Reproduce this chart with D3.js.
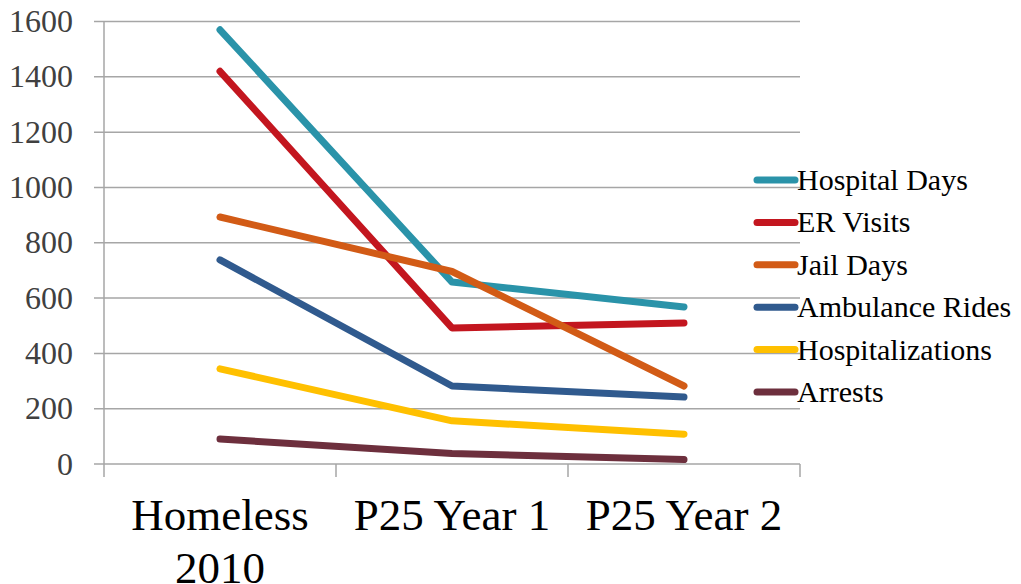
<!DOCTYPE html>
<html>
<head>
    <script src="https://d3js.org/d3.v7.min.js"></script>
    <style>
        body { margin: 0; background: #fff; }
        text { font-family: "Liberation Serif", "DejaVu Serif", serif; }
    </style>
</head>
<body>
    <svg id="chartArea" width="1021" height="584"></svg>
    <script>
        // data
        const categories = ["Homeless 2010", "P25 Year 1", "P25 Year 2"];
        const catLines = [["Homeless", "2010"], ["P25 Year 1"], ["P25 Year 2"]];
        const seriesNames = ["Hospital Days", "ER Visits", "Jail Days", "Ambulance Rides", "Hospitalizations", "Arrests"];
        const hospitalDays = [1570, 658, 568];
        const erVisits = [1420, 492, 510];
        const jailDays = [893, 696, 282];
        const ambulanceRides = [738, 282, 242];
        const hospitalizations = [344, 156, 108];
        const arrests = [90, 38, 16];
        const yTicks = [0, 200, 400, 600, 800, 1000, 1200, 1400, 1600];
        const colors = ["#2a93a9", "#c3161f", "#d25b16", "#305a8e", "#ffc000", "#6d2f3d"];

        const allSeries = [hospitalDays, erVisits, jailDays, ambulanceRides, hospitalizations, arrests];

        const svg = d3.select("#chartArea");
        const plot = { left: 104, right: 800, top: 21.5, bottom: 464 };

        const x = d3.scaleBand().domain(categories).range([plot.left, plot.right]);
        const y = d3.scaleLinear().domain([0, 1600]).range([plot.bottom, plot.top]);
        const cx = d => x(d) + x.bandwidth() / 2;

        // gridlines
        svg.append("g").selectAll("line").data(yTicks).join("line")
            .attr("x1", plot.left - 10).attr("x2", plot.right)
            .attr("y1", d => y(d)).attr("y2", d => y(d))
            .attr("stroke", "#a6a6a6").attr("stroke-width", 1.5);

        // vertical axis + category ticks
        svg.append("line")
            .attr("x1", plot.left).attr("x2", plot.left)
            .attr("y1", plot.top).attr("y2", plot.bottom + 13)
            .attr("stroke", "#a6a6a6").attr("stroke-width", 1.5);
        svg.append("g").selectAll("line").data(categories).join("line")
            .attr("x1", d => x(d) + x.bandwidth()).attr("x2", d => x(d) + x.bandwidth())
            .attr("y1", plot.bottom).attr("y2", plot.bottom + 13)
            .attr("stroke", "#a6a6a6").attr("stroke-width", 1.5);

        // y tick labels
        svg.append("g").selectAll("text").data(yTicks).join("text")
            .attr("x", 73).attr("y", d => y(d))
            .attr("dy", "0.33em")
            .attr("text-anchor", "end")
            .attr("font-size", 32)
            .attr("fill", "#404040")
            .text(d => d);

        // category labels
        const cl = svg.append("g").selectAll("text").data(categories).join("text")
            .attr("x", d => cx(d)).attr("y", 530)
            .attr("text-anchor", "middle")
            .attr("font-size", 45)
            .attr("fill", "#000");
        cl.selectAll("tspan").data((d, i) => catLines[i].map(t => ({ t, c: d }))).join("tspan")
            .attr("x", d => cx(d.c))
            .attr("dy", (d, i) => i === 0 ? 0 : 53)
            .text(d => d.t);

        // series lines
        const line = d3.line().x((d, i) => cx(categories[i])).y(d => y(d));
        svg.append("g").selectAll("path").data(allSeries).join("path")
            .attr("d", d => line(d))
            .attr("fill", "none")
            .attr("stroke", (d, i) => colors[i])
            .attr("stroke-width", 7)
            .attr("stroke-linecap", "round")
            .attr("stroke-linejoin", "round");

        // legend
        const legend = svg.append("g").selectAll("g").data(seriesNames).join("g")
            .attr("transform", (d, i) => `translate(757,${180 + i * 42.4})`);
        legend.append("line")
            .attr("x1", 0).attr("x2", 38)
            .attr("stroke", (d, i) => colors[i])
            .attr("stroke-width", 7)
            .attr("stroke-linecap", "round");
        legend.append("text")
            .attr("x", 40).attr("dy", "0.33em")
            .attr("font-size", 30)
            .attr("fill", "#000")
            .text(d => d);
    </script>
</body>
</html>
